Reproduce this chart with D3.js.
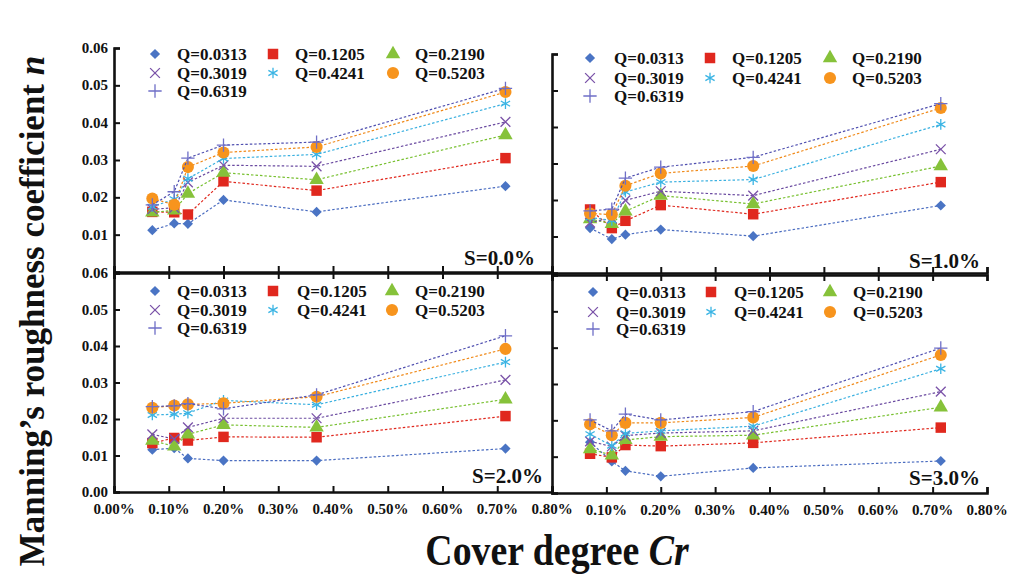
<!DOCTYPE html>
<html>
<head>
<meta charset="utf-8">
<script src="https://cdn.jsdelivr.net/npm/d3@7"></script>
<style>
  body { margin: 0; background: #fff; }
  svg text { font-family: "Liberation Serif", "Times New Roman", serif; font-weight: bold; fill: #111; }
</style>
</head>
<body>
<svg id="chart" width="1011" height="581"></svg>
<script>
// cover degree Cr (%) of the six plots
var cover = [0.07, 0.11, 0.135, 0.20, 0.37, 0.715];
var qLabels = ['Q=0.0313', 'Q=0.1205', 'Q=0.2190', 'Q=0.3019', 'Q=0.4241', 'Q=0.5203', 'Q=0.6319'];
var slopes = ['S=0.0%', 'S=1.0%', 'S=2.0%', 'S=3.0%'];
var xTicks = [0, 0.1, 0.2, 0.3, 0.4, 0.5, 0.6, 0.7, 0.8];
var yTicks = [0, 0.01, 0.02, 0.03, 0.04, 0.05, 0.06];

// Manning's n, one row per discharge Q
var nS0 = [
  [0.0112, 0.0130, 0.0129, 0.0193, 0.0161, 0.0230],
  [0.0161, 0.0160, 0.0154, 0.0243, 0.0218, 0.0305],
  [0.0160, 0.0165, 0.0210, 0.0266, 0.0247, 0.0367],
  [0.0168, 0.0172, 0.0240, 0.0286, 0.0283, 0.0402],
  [0.0175, 0.0195, 0.0250, 0.0304, 0.0315, 0.0451],
  [0.0197, 0.0180, 0.0281, 0.0320, 0.0335, 0.0482],
  [0.0180, 0.0215, 0.0305, 0.0340, 0.0348, 0.0492]
];
var nS1 = [
  [0.0123, 0.0093, 0.0105, 0.0119, 0.0101, 0.0185],
  [0.0174, 0.0123, 0.0143, 0.0186, 0.0161, 0.0249],
  [0.0148, 0.0135, 0.0169, 0.0212, 0.0189, 0.0293],
  [0.0138, 0.0150, 0.0199, 0.0224, 0.0212, 0.0339],
  [0.0152, 0.0144, 0.0222, 0.0249, 0.0256, 0.0407],
  [0.0163, 0.0160, 0.0239, 0.0273, 0.0293, 0.0452],
  [0.0170, 0.0175, 0.0260, 0.0290, 0.0317, 0.0464]
];
var nS2 = [
  [0.0116, 0.0120, 0.0092, 0.0086, 0.0086, 0.0119],
  [0.0134, 0.0148, 0.0141, 0.0151, 0.0150, 0.0208],
  [0.0141, 0.0125, 0.0158, 0.0184, 0.0177, 0.0254],
  [0.0158, 0.0145, 0.0177, 0.0202, 0.0202, 0.0307],
  [0.0211, 0.0213, 0.0216, 0.0251, 0.0239, 0.0356],
  [0.0231, 0.0237, 0.0240, 0.0243, 0.0261, 0.0392],
  [0.0234, 0.0236, 0.0242, 0.0228, 0.0266, 0.0428]
];
var nS3 = [
  [0.0140, 0.0087, 0.0061, 0.0046, 0.0069, 0.0088],
  [0.0108, 0.0098, 0.0132, 0.0129, 0.0138, 0.0180],
  [0.0121, 0.0104, 0.0146, 0.0155, 0.0159, 0.0236],
  [0.0142, 0.0128, 0.0158, 0.0165, 0.0171, 0.0279],
  [0.0162, 0.0130, 0.0164, 0.0171, 0.0184, 0.0342],
  [0.0189, 0.0159, 0.0193, 0.0193, 0.0208, 0.0380],
  [0.0201, 0.0171, 0.0217, 0.0201, 0.0224, 0.0399]
];

var colors = ['#4a74c4', '#e0281e', '#86c23a', '#7a52a8', '#3ab4e4', '#f7941d', '#6f6fc7'];
var lineColors = ['#4a6cc0', '#e0281e', '#78c030', '#6a4aa0', '#3ab0e0', '#f08a1a', '#5050b0'];
var shapes = [
  { type: d3.symbolSquare, size: 52, rot: 45, fill: true },
  { type: d3.symbolSquare, size: 110, rot: 0, fill: true },
  { type: d3.symbolTriangle, size: 90, rot: 0, fill: true },
  { type: d3.symbolTimes || d3.symbolCross, size: 64, rot: 0, fill: false },
  { type: d3.symbolAsterisk || d3.symbolStar, size: 80, rot: 0, fill: false },
  { type: d3.symbolCircle, size: 115, rot: 0, fill: true },
  { type: d3.symbolPlus || d3.symbolCross, size: 60, rot: 0, fill: false }
];

var panels = [
  { data: nS0, x: [114, 552], y: [272, 48], label: [535, 265], leg: { mx: [155, 273, 393], tx: [177, 295, 415], ry: [54, 73, 91] } },
  { data: nS1, x: [552, 987], y: [273, 54], label: [980, 268], leg: { mx: [590, 710, 830], tx: [614, 732, 852], ry: [58, 78, 96] } },
  { data: nS2, x: [114, 552], y: [492, 273], label: [543, 483], leg: { mx: [155, 273, 392], tx: [177, 297, 415], ry: [291, 310, 328] } },
  { data: nS3, x: [552, 987], y: [493, 275], label: [980, 485], leg: { mx: [593, 711, 830], tx: [616, 734, 853], ry: [292, 312, 329] } }
];

var svg = d3.select('#chart');
var pct = function (d) { return d3.format('.2f')(d) + '%'; };

function drawMarker (g, i, cx, cy) {
  var s = shapes[i];
  g.append('path')
    .attr('d', d3.symbol().type(s.type).size(s.size)())
    .attr('transform', 'translate(' + cx + ',' + cy + ') rotate(' + s.rot + ')')
    .attr('fill', s.fill ? colors[i] : 'none')
    .attr('stroke', s.fill ? 'none' : colors[i])
    .attr('stroke-width', 1.3);
}

panels.forEach(function (p, pi) {
  var x = d3.scaleLinear().domain([0, 0.8]).range(p.x);
  var y = d3.scaleLinear().domain([0, 0.06]).range(p.y);
  var g = svg.append('g');
  var left = pi % 2 === 0;
  var top = pi < 2;

  // series: dashed line then markers
  p.data.forEach(function (row, qi) {
    var pts = row.map(function (v, k) { return [cover[k], v]; });
    g.append('path')
      .attr('d', d3.line().x(function (d) { return x(d[0]); }).y(function (d) { return y(d[1]); })(pts))
      .attr('fill', 'none')
      .attr('stroke', lineColors[qi])
      .attr('stroke-width', 1.2)
      .attr('stroke-dasharray', '2.5,2');
    pts.forEach(function (d) { drawMarker(g, qi, x(d[0]), y(d[1])); });
  });

  // axes, ticks pointing inward
  g.append('g').attr('transform', 'translate(' + p.x[0] + ',0)')
    .call(d3.axisRight(y).tickValues(top ? yTicks.slice(1) : yTicks).tickSize(6).tickFormat(''));
  g.append('g').attr('transform', 'translate(0,' + p.y[0] + ')')
    .call(d3.axisTop(x).tickValues(xTicks).tickSize(6).tickFormat(''));
  if (!top) {
    // bottom panels have their own top edge with down ticks
    g.append('g').attr('transform', 'translate(0,' + p.y[1] + ')')
      .call(d3.axisBottom(x).tickValues(xTicks).tickSize(6).tickFormat(''));
  }
  g.selectAll('.domain').attr('stroke', '#111').attr('stroke-width', 2.6);
  g.selectAll('.tick line').attr('stroke', '#111').attr('stroke-width', 2);

  if (left) {
    g.selectAll('.ylab')
      .data(top ? yTicks.slice(1) : yTicks)
      .enter().append('text')
        .attr('x', p.x[0] - 6)
        .attr('y', function (d) { return y(d) + 5; })
        .attr('text-anchor', 'end')
        .style('font-size', '15px')
        .text(function (d) { return d3.format('.2f')(d); });
  }
  if (!top) {
    g.selectAll('.xlab')
      .data(left ? xTicks : xTicks.slice(1))
      .enter().append('text')
        .attr('x', function (d) { return x(d); })
        .attr('y', p.y[0] + 22)
        .attr('text-anchor', 'middle')
        .style('font-size', '15px')
        .text(pct);
  }

  // slope label
  g.append('text')
    .attr('x', p.label[0]).attr('y', p.label[1])
    .attr('text-anchor', 'end')
    .style('font-size', '21px')
    .text(slopes[pi]);

  // legend
  qLabels.forEach(function (lab, qi) {
    var c = qi % 3, r = Math.floor(qi / 3);
    drawMarker(g, qi, p.leg.mx[c], p.leg.ry[r]);
    g.append('text')
      .attr('x', p.leg.tx[c]).attr('y', p.leg.ry[r] + 6)
      .style('font-size', '17px')
      .text(lab);
  });
});

// axis titles
var yt = svg.append('text')
  .attr('transform', 'translate(44,311) rotate(-90)')
  .attr('text-anchor', 'middle')
  .style('font-size', '35px');
yt.append('tspan').text('Manning’s roughness coefficient ');
yt.append('tspan').style('font-style', 'italic').text('n');

var xt = svg.append('text')
  .attr('transform', 'translate(557,565) scale(0.86,1)')
  .attr('text-anchor', 'middle')
  .style('font-size', '44px');
xt.append('tspan').text('Cover degree ');
xt.append('tspan').style('font-style', 'italic').text('Cr');
</script>
</body>
</html>
